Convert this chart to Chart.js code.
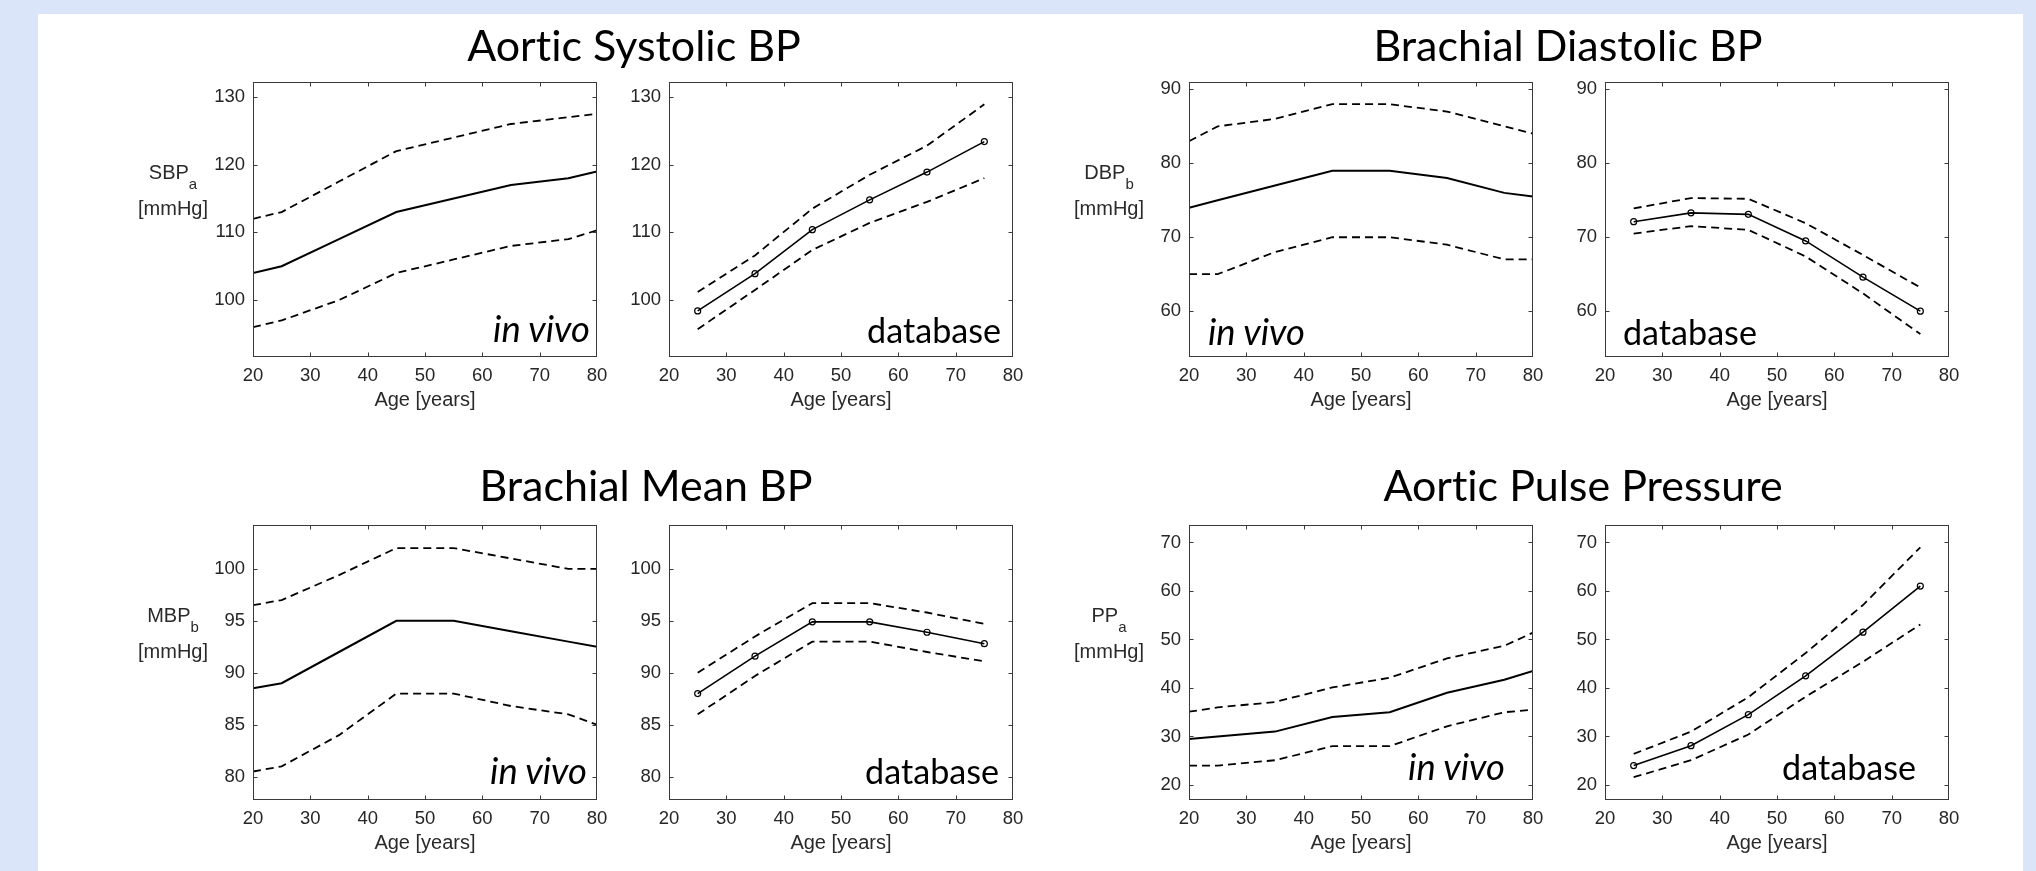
<!DOCTYPE html>
<html><head><meta charset="utf-8">
<script src="https://cdn.jsdelivr.net/npm/chart.js@4/dist/chart.umd.min.js"></script>
<style>
html,body{margin:0;padding:0;width:2036px;height:871px;overflow:hidden;background:#dbe5fa;}
#sheet{position:absolute;left:38px;top:14px;width:1985px;height:857px;background:#fff;}
canvas{position:absolute;}
#txt{position:absolute;left:0;top:0;font-variant-ligatures:none;font-feature-settings:"liga" 0,"clig" 0;}
#txt text{font-variant-ligatures:none;font-feature-settings:"liga" 0,"clig" 0;}
</style></head><body>
<div id="sheet"></div>
<div id="plots"></div>
<svg id="txt" width="2036" height="871" xmlns="http://www.w3.org/2000/svg"></svg>
<script>
// ---------------- data ----------------
const ageInVivo = [20, 25, 35, 45, 55, 65, 75, 80];
const ageDatabase = [25, 35, 45, 55, 65, 75];
const xTicks = [20, 30, 40, 50, 60, 70, 80];

const sbpVivoMean  = [104, 105, 109, 113, 115, 117, 118, 119];
const sbpVivoUpper = [112, 113, 117.5, 122, 124, 126, 127, 127.5];
const sbpVivoLower = [96, 97, 100, 104, 106, 108, 109, 110.3];
const sbpDbMean    = [98.4, 103.9, 110.4, 114.8, 118.9, 123.4];
const sbpDbUpper   = [101.2, 106.6, 113.5, 118.5, 122.8, 128.9];
const sbpDbLower   = [95.7, 101.5, 107.4, 111.4, 114.5, 118.0];
const sbpTicks     = [100, 110, 120, 130];

const dbpVivoMean  = [74, 75, 77, 79, 79, 78, 76, 75.5];
const dbpVivoUpper = [83, 85, 86, 88, 88, 87, 85, 84];
const dbpVivoLower = [65, 65, 68, 70, 70, 69, 67, 67];
const dbpDbMean    = [72.1, 73.3, 73.1, 69.5, 64.6, 60.0];
const dbpDbUpper   = [73.9, 75.3, 75.2, 71.9, 67.6, 63.2];
const dbpDbLower   = [70.5, 71.5, 71.0, 67.4, 62.4, 56.9];
const dbpTicks     = [60, 70, 80, 90];

const mbpVivoMean  = [88.5, 89, 92, 95, 95, 94, 93, 92.5];
const mbpVivoUpper = [96.5, 97, 99.4, 102, 102, 101, 100, 100];
const mbpVivoLower = [80.5, 81, 84, 88, 88, 86.8, 86, 85];
const mbpDbMean    = [88.0, 91.6, 94.9, 94.9, 93.9, 92.8];
const mbpDbUpper   = [90.0, 93.5, 96.7, 96.7, 95.8, 94.7];
const mbpDbLower   = [86.0, 89.7, 93.0, 93.0, 92.0, 91.1];
const mbpTicks     = [80, 85, 90, 95, 100];

const ppVivoMean   = [29.5, 30.0, 31.0, 34.0, 35.0, 39.0, 41.7, 43.5];
const ppVivoUpper  = [35.1, 36.0, 37.1, 40.1, 42.1, 46.1, 48.7, 51.4];
const ppVivoLower  = [24.0, 24.0, 25.1, 28.0, 28.0, 32.1, 35.0, 35.5];
const ppDbMean     = [24.0, 28.1, 34.5, 42.5, 51.5, 61.0];
const ppDbUpper    = [26.4, 31.0, 38.1, 47.2, 57.1, 69.0];
const ppDbLower    = [21.6, 25.1, 30.4, 38.2, 45.4, 53.1];
const ppTicks      = [20, 30, 40, 50, 60, 70];

const titles = ['Aortic Systolic BP', 'Brachial Diastolic BP', 'Brachial Mean BP', 'Aortic Pulse Pressure'];
const yNames = [['SBP', 'a'], ['DBP', 'b'], ['MBP', 'b'], ['PP', 'a']];
const yUnit = '[mmHg]';
const xLabel = 'Age [years]';
const tagVivo = 'in vivo';
const tagDb = 'database';

// ---------------- layout ----------------
const PW = 344, PH = 275;
const colL = [253, 669, 1189, 1605];
const rowT = [82, 525];
const PADL = 70, PADR = 30, PADT = 20, PADB = 40;

function pts(xs, ys) { return xs.map((x, i) => ({x: x, y: ys[i]})); }
function sets(xs, mean, up, lo, markers) {
  const dash = {borderColor: '#000', borderWidth: 1.8, borderDash: [8, 5], pointRadius: 0, fill: false};
  return [
    Object.assign({data: pts(xs, up)}, dash),
    Object.assign({data: pts(xs, lo)}, dash),
    {data: pts(xs, mean), borderColor: '#000', borderWidth: markers ? 1.6 : 2, fill: false,
     pointRadius: markers ? 3 : 0, pointStyle: 'circle', pointBackgroundColor: 'rgba(255,255,255,0)',
     pointBorderColor: '#000', pointBorderWidth: 1.2}
  ];
}

const boxPlugin = {
  id: 'mbox',
  afterDraw(chart) {
    const ctx = chart.ctx, a = chart.chartArea, xs = chart.scales.x, ys = chart.scales.y;
    const l = Math.round(a.left) + 0.5, r = Math.round(a.right) - 0.5;
    const t = Math.round(a.top) + 0.5, b = Math.round(a.bottom) - 0.5;
    ctx.save();
    ctx.strokeStyle = '#3a3a3a';
    ctx.lineWidth = 1;
    ctx.strokeRect(l, t, r - l, b - t);
    ctx.beginPath();
    xs.ticks.forEach(tk => {
      const px = Math.round(xs.getPixelForValue(tk.value)) + 0.5;
      if (px <= l + 1 || px >= r - 1) return;
      ctx.moveTo(px, b); ctx.lineTo(px, b - 4);
      ctx.moveTo(px, t); ctx.lineTo(px, t + 4);
    });
    ys.ticks.forEach(tk => {
      const py = Math.round(ys.getPixelForValue(tk.value)) + 0.5;
      if (py <= t + 1 || py >= b - 1) return;
      ctx.moveTo(l, py); ctx.lineTo(l + 4, py);
      ctx.moveTo(r, py); ctx.lineTo(r - 4, py);
    });
    ctx.stroke();
    ctx.restore();
  }
};

function buildChart(left, top, datasets, ymin, ymax, yTicks) {
  const c = document.createElement('canvas');
  const w = PW + PADL + PADR, h = PH + PADT + PADB;
  c.width = w; c.height = h;
  c.style.width = w + 'px'; c.style.height = h + 'px';
  c.style.left = (left - PADL) + 'px'; c.style.top = (top - PADT) + 'px';
  document.getElementById('plots').appendChild(c);
  const tickFont = {family: "'Liberation Sans', Arial, sans-serif", size: 18.5};
  new Chart(c, {
    type: 'line',
    data: {datasets: datasets},
    options: {
      responsive: false, animation: false, devicePixelRatio: 1,
      layout: {padding: {left: 0, right: PADR, top: PADT, bottom: 0}},
      plugins: {legend: {display: false}, tooltip: {enabled: false}},
      elements: {line: {tension: 0}},
      scales: {
        x: {type: 'linear', min: 20, max: 80,
            grid: {display: false, drawTicks: false}, border: {display: false},
            afterBuildTicks: s => { s.ticks = xTicks.map(v => ({value: v})); },
            afterFit: s => { s.height = PADB; },
            ticks: {color: '#262626', font: tickFont, padding: 8, maxRotation: 0, autoSkip: false}},
        y: {type: 'linear', min: ymin, max: ymax,
            grid: {display: false, drawTicks: false}, border: {display: false},
            afterBuildTicks: s => { s.ticks = yTicks.map(v => ({value: v})); },
            afterFit: s => { s.width = PADL; },
            ticks: {color: '#262626', font: tickFont, padding: 8, autoSkip: false}}
      }
    },
    plugins: [boxPlugin]
  });
}

buildChart(colL[0], rowT[0], sets(ageInVivo, sbpVivoMean, sbpVivoUpper, sbpVivoLower, false), 91.6, 132.2, sbpTicks);
buildChart(colL[1], rowT[0], sets(ageDatabase, sbpDbMean, sbpDbUpper, sbpDbLower, true), 91.6, 132.2, sbpTicks);
buildChart(colL[2], rowT[0], sets(ageInVivo, dbpVivoMean, dbpVivoUpper, dbpVivoLower, false), 53.8, 91.0, dbpTicks);
buildChart(colL[3], rowT[0], sets(ageDatabase, dbpDbMean, dbpDbUpper, dbpDbLower, true), 53.8, 91.0, dbpTicks);
buildChart(colL[0], rowT[1], sets(ageInVivo, mbpVivoMean, mbpVivoUpper, mbpVivoLower, false), 77.76, 104.22, mbpTicks);
buildChart(colL[1], rowT[1], sets(ageDatabase, mbpDbMean, mbpDbUpper, mbpDbLower, true), 77.76, 104.22, mbpTicks);
buildChart(colL[2], rowT[1], sets(ageInVivo, ppVivoMean, ppVivoUpper, ppVivoLower, false), 16.9, 73.6, ppTicks);
buildChart(colL[3], rowT[1], sets(ageDatabase, ppDbMean, ppDbUpper, ppDbLower, true), 16.9, 73.6, ppTicks);

// ---------------- texts (SVG) ----------------
const svg = document.getElementById('txt');
const NS = 'http://www.w3.org/2000/svg';
function addText(str, x, y, opts) {
  const t = document.createElementNS(NS, 'text');
  t.setAttribute('x', x); t.setAttribute('y', y);
  t.setAttribute('text-anchor', opts.anchor || 'middle');
  t.setAttribute('font-family', opts.family);
  t.setAttribute('font-size', opts.size);
  if (opts.style) t.setAttribute('font-style', opts.style);
  t.setAttribute('fill', opts.color || '#000');
  t.textContent = str;
  svg.appendChild(t);
  return t;
}
function fitGroup(items, family, style) {
  let ratio = 0;
  items.forEach(it => {
    const t = addText(it.s, 0, -100, {family: family, size: 40, style: style});
    ratio += it.w / t.getComputedTextLength();
    svg.removeChild(t);
  });
  return 40 * ratio / items.length;
}
const LATO = "Lato, 'Open Sans', sans-serif";
const ARIAL = "'Liberation Sans', Arial, sans-serif";

const titlePos = [{cx: 634, base: 61, w: 331}, {cx: 1568, base: 61, w: 380},
                  {cx: 646, base: 501, w: 338}, {cx: 1583, base: 501, w: 406}];
const tSize = fitGroup(titles.map((s, i) => ({s: s, w: titlePos[i].w})), LATO, 'normal');
titles.forEach((s, i) => addText(s, titlePos[i].cx, titlePos[i].base, {family: LATO, size: tSize}));

const vivoPos = [{x: 590, base: 342, anchor: 'end'}, {x: 1208, base: 345, anchor: 'start'},
                 {x: 587, base: 784, anchor: 'end'}, {x: 1505, base: 780, anchor: 'end'}];
const dbPos = [{x: 1001, base: 343, anchor: 'end'}, {x: 1623, base: 345, anchor: 'start'},
               {x: 999, base: 784, anchor: 'end'}, {x: 1916, base: 780, anchor: 'end'}];
const vSize = fitGroup([{s: tagVivo, w: 97}], LATO, 'italic');
const dSize = fitGroup([{s: tagDb, w: 134}], LATO, 'normal');
vivoPos.forEach(p => addText(tagVivo, p.x, p.base, {family: LATO, size: vSize, style: 'italic', anchor: p.anchor}));
dbPos.forEach(p => addText(tagDb, p.x, p.base, {family: LATO, size: dSize, anchor: p.anchor}));

// axis labels
const cells = [[0, 0], [2, 0], [0, 1], [2, 1]];
cells.forEach((cr, i) => {
  const L = colL[cr[0]], T = rowT[cr[1]];
  const t = document.createElementNS(NS, 'text');
  t.setAttribute('x', L - 80); t.setAttribute('y', T + 96.5);
  t.setAttribute('text-anchor', 'middle');
  t.setAttribute('font-family', ARIAL); t.setAttribute('font-size', 20);
  t.setAttribute('fill', '#2a2a2a');
  const a = document.createElementNS(NS, 'tspan'); a.textContent = yNames[i][0];
  const b = document.createElementNS(NS, 'tspan'); b.textContent = yNames[i][1];
  b.setAttribute('font-size', 15); b.setAttribute('dy', 10);
  t.appendChild(a); t.appendChild(b); svg.appendChild(t);
  addText(yUnit, L - 80, T + 132.5, {family: ARIAL, size: 20, color: '#2a2a2a'});
});
[0, 1].forEach(r => colL.forEach(L => addText(xLabel, L + PW / 2, rowT[r] + PH + 49, {family: ARIAL, size: 20, color: '#2a2a2a'})));
</script>
</body></html>
